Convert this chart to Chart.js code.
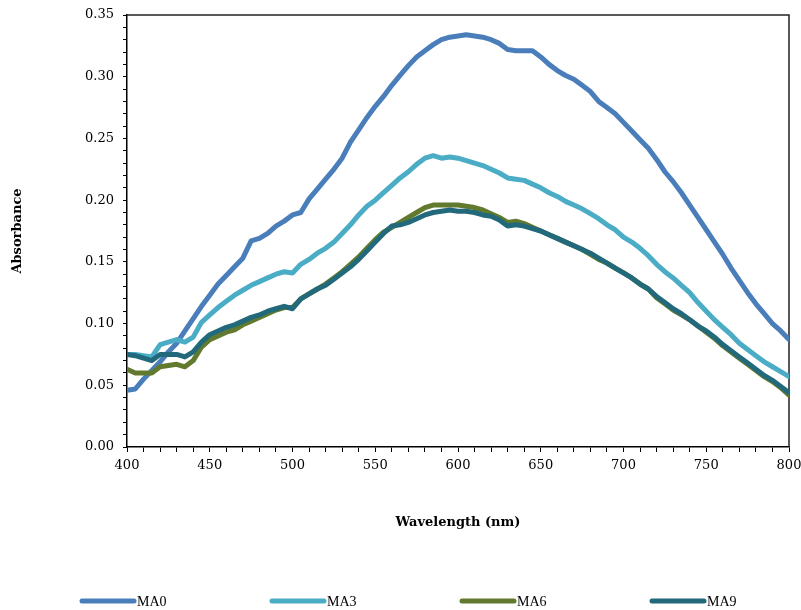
<!DOCTYPE html>
<html>
<head>
<meta charset="utf-8">
<script src="https://cdn.jsdelivr.net/npm/chart.js@4.4.1/dist/chart.umd.min.js"></script>
<style>
  html, body { margin: 0; padding: 0; background: #fff; }
  #wrap { width: 801px; height: 610px; position: relative; }
</style>
</head>
<body>
<div id="wrap"><canvas id="chart" width="801" height="610"></canvas></div>
<script>
// wavelength grid, 5 nm steps
const WAVELENGTHS = [];
for (let w = 400; w <= 800; w += 5) WAVELENGTHS.push(w);

const SERIES_NAMES = ['MA0', 'MA3', 'MA6', 'MA9'];
const SERIES_COLORS = ['#4a7ebb', '#4bacc6', '#627a2e', '#226a7b'];

const MA0 = [
  0.046, 0.047, 0.055, 0.062, 0.069, 0.077, 0.084, 0.094, 0.104, 0.114,
  0.123, 0.132, 0.139, 0.146, 0.153, 0.167, 0.169, 0.173, 0.179, 0.183,
  0.188, 0.190, 0.201, 0.209, 0.217, 0.225, 0.234, 0.247, 0.257, 0.267,
  0.276, 0.284, 0.293, 0.301, 0.309, 0.316, 0.321, 0.326, 0.330, 0.332,
  0.333, 0.334, 0.333, 0.332, 0.330, 0.327, 0.322, 0.321, 0.321, 0.321,
  0.316, 0.310, 0.305, 0.301, 0.298, 0.293, 0.288, 0.280, 0.275, 0.270,
  0.263, 0.256, 0.249, 0.242, 0.233, 0.223, 0.215, 0.206, 0.196, 0.186,
  0.176, 0.166, 0.156, 0.145, 0.135, 0.125, 0.116, 0.108, 0.100, 0.094,
  0.087
];
const MA3 = [
  0.075, 0.075, 0.074, 0.073, 0.083, 0.085, 0.087, 0.085, 0.089, 0.101,
  0.107, 0.113, 0.118, 0.123, 0.127, 0.131, 0.134, 0.137, 0.140, 0.142,
  0.141, 0.148, 0.152, 0.157, 0.161, 0.166, 0.173, 0.180, 0.188, 0.195,
  0.200, 0.206, 0.212, 0.218, 0.223, 0.229, 0.234, 0.236, 0.234, 0.235,
  0.234, 0.232, 0.230, 0.228, 0.225, 0.222, 0.218, 0.217, 0.216, 0.213,
  0.210, 0.206, 0.203, 0.199, 0.196, 0.193, 0.189, 0.185, 0.180, 0.176,
  0.170, 0.166, 0.161, 0.155, 0.148, 0.142, 0.137, 0.131, 0.125, 0.117,
  0.110, 0.103, 0.097, 0.091, 0.084, 0.079, 0.074, 0.069, 0.065, 0.061,
  0.057
];
const MA6 = [
  0.063, 0.060, 0.060, 0.060, 0.065, 0.066, 0.067, 0.065, 0.070, 0.081,
  0.087, 0.090, 0.093, 0.095, 0.099, 0.102, 0.105, 0.108, 0.111, 0.113,
  0.113, 0.120, 0.124, 0.128, 0.132, 0.137, 0.142, 0.148, 0.154, 0.161,
  0.168, 0.174, 0.178, 0.182, 0.186, 0.190, 0.194, 0.196, 0.196, 0.196,
  0.196, 0.195, 0.194, 0.192, 0.189, 0.186, 0.182, 0.183, 0.181, 0.178,
  0.175, 0.172, 0.169, 0.166, 0.163, 0.160, 0.156, 0.152, 0.149, 0.145,
  0.141, 0.137, 0.132, 0.128, 0.121, 0.116, 0.111, 0.107, 0.103, 0.098,
  0.093, 0.088, 0.082, 0.077, 0.072, 0.067, 0.062, 0.057, 0.053, 0.048,
  0.042
];
const MA9 = [
  0.075, 0.074, 0.072, 0.070, 0.075, 0.075, 0.075, 0.073, 0.077, 0.085,
  0.091, 0.094, 0.097, 0.099, 0.102, 0.105, 0.107, 0.110, 0.112, 0.114,
  0.112, 0.120, 0.124, 0.128, 0.131, 0.136, 0.141, 0.146, 0.152, 0.159,
  0.166, 0.173, 0.179, 0.180, 0.182, 0.185, 0.188, 0.190, 0.191, 0.192,
  0.191, 0.191, 0.190, 0.188, 0.187, 0.184, 0.179, 0.180, 0.179, 0.177,
  0.175, 0.172, 0.169, 0.166, 0.163, 0.160, 0.157, 0.153, 0.149, 0.145,
  0.141, 0.137, 0.132, 0.128, 0.122, 0.117, 0.112, 0.108, 0.103, 0.098,
  0.094, 0.089, 0.083, 0.078, 0.073, 0.068, 0.063, 0.058, 0.054, 0.049,
  0.044
];
const SERIES_VALUES = [MA0, MA3, MA6, MA9];

const FONT = "'DejaVu Serif', 'Liberation Serif', serif";
const LEGEND_FONT = "'Liberation Serif', serif";

// top/right frame around the plot
const framePlugin = {
  id: 'frame',
  beforeDatasetsDraw(chart) {
    const { ctx, chartArea: a } = chart;
    ctx.save();
    ctx.strokeStyle = '#222';
    ctx.lineWidth = 1.5;
    ctx.beginPath();
    ctx.moveTo(a.left, a.top);
    ctx.lineTo(a.right, a.top);
    ctx.lineTo(a.right, a.bottom);
    ctx.stroke();
    ctx.restore();
  }
};

// legend row under the axis title, Excel style
const legendPlugin = {
  id: 'bottomLegend',
  afterDraw(chart) {
    const { ctx } = chart;
    const y = 601;
    ctx.save();
    ctx.font = '14px ' + LEGEND_FONT;
    ctx.textBaseline = 'middle';
    chart.data.datasets.forEach((ds, i) => {
      const x = 82 + i * 190;
      ctx.strokeStyle = ds.borderColor;
      ctx.lineWidth = 5;
      ctx.lineCap = 'round';
      ctx.beginPath();
      ctx.moveTo(x, y);
      ctx.lineTo(x + 52, y);
      ctx.stroke();
      ctx.fillStyle = '#000';
      ctx.fillText(ds.label, x + 55, y + 1);
    });
    ctx.restore();
  }
};

const datasets = SERIES_NAMES.map((name, i) => ({
  label: name,
  data: WAVELENGTHS.map((w, j) => ({ x: w, y: SERIES_VALUES[i][j] })),
  borderColor: SERIES_COLORS[i],
  backgroundColor: SERIES_COLORS[i],
  borderWidth: 5,
  borderJoinStyle: 'round',
  borderCapStyle: 'round',
  pointRadius: 0,
  tension: 0,
  order: SERIES_NAMES.length - i
}));

new Chart(document.getElementById('chart'), {
  type: 'line',
  data: { datasets },
  options: {
    responsive: false,
    animation: false,
    layout: { padding: { top: 15, right: 12, left: 0, bottom: 76 } },
    plugins: { legend: { display: false }, tooltip: { enabled: false } },
    scales: {
      x: {
        type: 'linear',
        min: 400,
        max: 800,
        afterFit: s => {
          s.height = 87;
          s.paddingLeft = 0;
          s.paddingRight = 0;
        },
        ticks: {
          stepSize: 10,
          autoSkip: false,
          maxRotation: 0,
          padding: 6,
          color: '#000',
          font: { family: FONT, size: 13 },
          callback: v => (v % 50 === 0 ? String(v) : '')
        },
        grid: { drawOnChartArea: false, tickLength: 5, color: '#000', tickColor: '#000' },
        border: { color: '#000', width: 1.5 },
        title: {
          display: true,
          text: 'Wavelength (nm)',
          color: '#000',
          font: { family: FONT, size: 13, weight: 'bold' },
          padding: { top: 4, bottom: 4 }
        }
      },
      y: {
        min: 0,
        max: 0.35,
        afterFit: s => {
          s.width = 127;
          s.paddingTop = 0;
          s.paddingBottom = 0;
        },
        ticks: {
          stepSize: 0.01,
          autoSkip: false,
          padding: 9,
          color: '#000',
          font: { family: FONT, size: 13 },
          callback: v => (Math.round(v * 100) % 5 === 0 ? v.toFixed(2) : '')
        },
        grid: { drawOnChartArea: false, tickLength: 4, color: '#000', tickColor: '#000' },
        border: { color: '#000', width: 1.5 },
        title: {
          display: true,
          text: 'Absorbance',
          color: '#000',
          font: { family: FONT, size: 13, weight: 'bold' },
          padding: { top: 10, bottom: 4 }
        }
      }
    }
  },
  plugins: [framePlugin, legendPlugin]
});
</script>
</body>
</html>
